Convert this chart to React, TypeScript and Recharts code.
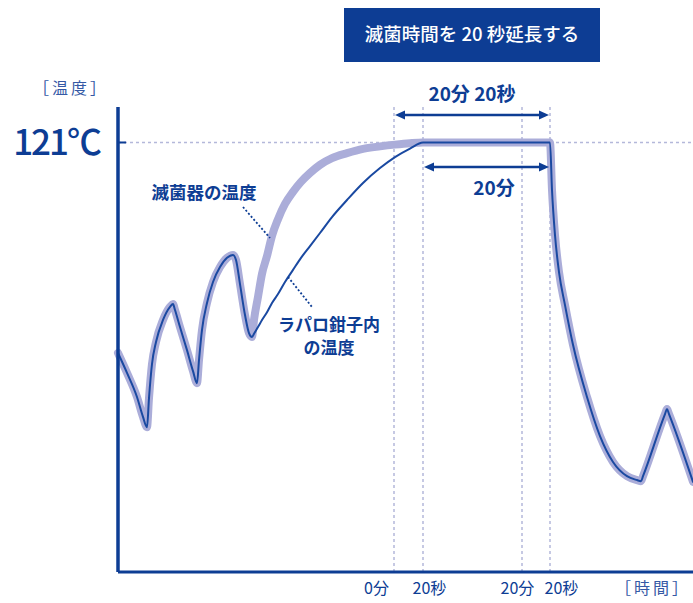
import { Line, LineChart, ReferenceLine, XAxis, YAxis } from 'recharts';

// schematic time axis (0 = start of the cycle), temperature axis in °C-like units
const time = [
  0, 9, 19, 25, 29, 31, 34, 38, 45, 52, 55, 57, 62, 69, 75, 79, 81, 84, 89, 95, 102, 109, 115, 118, 122, 127, 131, 134,
  136, 140, 144, 149, 154, 160, 167, 175, 183, 192, 202, 214, 229, 245, 262, 277, 292, 305,
  432, 434, 437, 441, 447, 455, 469, 482, 495, 509, 519, 523, 525, 547, 549, 551, 575,
];
const sterilizerTemp = [
  61.7, 56.1, 49.3, 43.7, 40.8, 49.0, 58.6, 64.8, 71.0, 74.7, 75.5, 73.8, 69.0, 62.5, 56.6, 53.2, 59.7, 68.2, 75.8, 81.7, 85.9, 88.5, 89.3, 87.9, 81.1, 72.4, 67.3, 66.2,
  71.0, 77.5, 84.0, 89.0, 94.7, 99.4, 103.7, 107.1, 109.9, 112.4, 114.7, 116.6, 118.0, 119.2, 119.9, 120.4, 120.8, 121,
  121, 107.6, 94.9, 84.5, 75.2, 64.0, 49.3, 38.3, 31.0, 27.0, 25.9, 25.6, 27.0, 44.5, 45.9, 44.5, 25.4,
];
const forcepsTemp = [
  61.7, 56.1, 49.3, 43.7, 40.8, 49.0, 58.6, 64.8, 71.0, 74.7, 75.5, 73.8, 69.0, 62.5, 56.6, 53.2, 59.7, 68.2, 75.8, 81.7, 85.9, 88.5, 89.3, 87.9, 81.1, 72.4, 67.3, 66.2,
  67.1, 69.0, 71.0, 73.2, 75.8, 78.3, 81.7, 85.1, 88.5, 91.8, 95.5, 100.0, 104.8, 109.6, 113.8, 116.9, 119.3, 121,
  121, 107.6, 94.9, 84.5, 75.2, 64.0, 49.3, 38.3, 31.0, 27.0, 25.9, 25.6, 27.0, 44.5, 45.9, 44.5, 25.4,
];
const guideTimes = [276, 305, 404, 432];
const setTemp = 121;

const data = time.map((t, i) => ({ t, sterilizer: sterilizerTemp[i], forceps: forcepsTemp[i] }));

const NAVY = '#0d3d94';
const LINE = '#1a49a1';
const HALO = '#abadd9';
const GUIDE = '#b4b8da';
const FONT = '"Noto Sans CJK JP", "Noto Sans", sans-serif';

const TempTick = (props: any) => {
  const { x, y, payload } = props;
  return (
    <g>
      <text x={x} y={y} dy="0.36em" textAnchor="end" fontSize={35} letterSpacing={-2} fill={NAVY} fontWeight={500} fontFamily={FONT}>
        {payload.value}℃
      </text>
      <line x1={x + 18} x2={x + 26} y1={y} y2={y} stroke={NAVY} strokeWidth={2} />
    </g>
  );
};

const Arrow = ({ x1, x2, y }: { x1: number; x2: number; y: number }) => (
  <g>
    <line x1={x1 + 6} x2={x2 - 6} y1={y} y2={y} stroke={NAVY} strokeWidth={2.5} />
    <polygon points={`${x1},${y} ${x1 + 10},${y - 4.5} ${x1 + 10},${y + 4.5}`} fill={NAVY} />
    <polygon points={`${x2},${y} ${x2 - 10},${y - 4.5} ${x2 - 10},${y + 4.5}`} fill={NAVY} />
  </g>
);

export default function App() {
  return (
    <div style={{ position: 'absolute', left: 0, top: 0, width: 693, height: 603, background: '#fff', fontFamily: FONT }}>
      <LineChart width={693} height={603} data={data} margin={{ top: 107, right: 0, bottom: 0, left: 0 }}>
        <XAxis type="number" dataKey="t" domain={[0, 575]} height={31} tick={false} tickLine={false} axisLine={{ stroke: NAVY, strokeWidth: 3 }} />
        <YAxis
          type="number"
          domain={[0, 131]}
          width={118}
          ticks={[setTemp]}
          tick={<TempTick />}
          tickLine={false}
          tickSize={0}
          tickMargin={18}
          axisLine={{ stroke: NAVY, strokeWidth: 3.5 }}
        />
        <ReferenceLine y={setTemp} stroke={GUIDE} strokeDasharray="3 3" strokeWidth={1.5} />
        {guideTimes.map((g) => (
          <ReferenceLine key={g} x={g} stroke={GUIDE} strokeDasharray="3 3" strokeWidth={1.5} />
        ))}
        <Line dataKey="sterilizer" type="monotone" stroke={HALO} strokeWidth={8} dot={false} activeDot={false} strokeLinecap="round" strokeLinejoin="round" isAnimationActive={false} />
        <Line dataKey="forceps" type="monotone" stroke={LINE} strokeWidth={2} dot={false} activeDot={false} strokeLinecap="round" strokeLinejoin="round" isAnimationActive={false} />
      </LineChart>

      <svg width={693} height={603} style={{ position: 'absolute', left: 0, top: 0, pointerEvents: 'none' }} fontFamily={FONT}>
        <rect x={344} y={8} width={256} height={54} fill={NAVY} />
        <text x={472} y={35} dy="0.35em" textAnchor="middle" fill="#fff" fontSize={18.5} fontWeight={500}>
          滅菌時間を 20 秒延長する
        </text>

        <text x={71} y={88} dy="0.35em" textAnchor="middle" fill="#3559a5" fontSize={16} letterSpacing={3}>［温度］</text>

        <text x={472} y={94} dy="0.35em" textAnchor="middle" fill={NAVY} fontSize={19} fontWeight={600}>20分 20秒</text>
        <Arrow x1={395} x2={549} y={115} />
        <Arrow x1={424} x2={549} y={167} />
        <text x={494} y={188} dy="0.35em" textAnchor="middle" fill={NAVY} fontSize={19} fontWeight={600}>20分</text>

        <text x={204} y={193} dy="0.35em" textAnchor="middle" fill={NAVY} fontSize={17.5} fontWeight={700}>滅菌器の温度</text>
        <line x1={243} y1={207} x2={270} y2={238} stroke={NAVY} strokeWidth={1.8} strokeDasharray="2 2" />

        <line x1={288} y1={277} x2={312} y2={307} stroke={NAVY} strokeWidth={1.8} strokeDasharray="2 2" />
        <text x={329} y={325} dy="0.35em" textAnchor="middle" fill={NAVY} fontSize={17} fontWeight={700}>ラパロ鉗子内</text>
        <text x={329} y={348} dy="0.35em" textAnchor="middle" fill={NAVY} fontSize={17} fontWeight={700}>の温度</text>

        <text x={376.5} y={588} dy="0.35em" textAnchor="middle" fill={NAVY} fontSize={16}>0分</text>
        <text x={429.5} y={588} dy="0.35em" textAnchor="middle" fill={NAVY} fontSize={16}>20秒</text>
        <text x={517.5} y={588} dy="0.35em" textAnchor="middle" fill={NAVY} fontSize={16}>20分</text>
        <text x={561.5} y={588} dy="0.35em" textAnchor="middle" fill={NAVY} fontSize={16}>20秒</text>
        <text x={653} y={588} dy="0.35em" textAnchor="middle" fill="#3559a5" fontSize={16} letterSpacing={3}>［時間］</text>
      </svg>
    </div>
  );
}
